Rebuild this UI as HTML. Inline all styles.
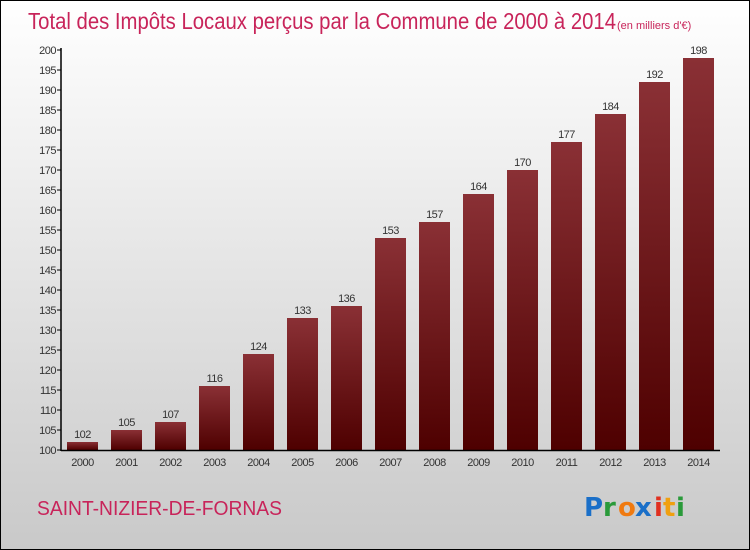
<!DOCTYPE html>
<html><head><meta charset="utf-8"><style>
body{margin:0}
#c{width:748px;height:548px;border:1px solid #000;position:relative;background:linear-gradient(#fff,#c9c9c9);font-family:"Liberation Sans",sans-serif;overflow:hidden}
</style></head><body>
<div id="c">
<svg width="748" height="548" style="position:absolute;left:0;top:0">
<defs><linearGradient id="bg" x1="0" y1="0" x2="0" y2="1"><stop offset="0" stop-color="#8a3035"/><stop offset="1" stop-color="#4e0000"/></linearGradient></defs>
<text x="27" y="28" font-size="23" fill="#c8245a" textLength="588" lengthAdjust="spacingAndGlyphs">Total des Impôts Locaux perçus par la Commune de 2000 à 2014</text>
<text x="616" y="28" font-size="11" fill="#c8245a">(en milliers d'€)</text>
<g id="plot" transform="translate(-1,-1)"></g>
<text x="36" y="514" font-size="20" fill="#c8245a" textLength="245" lengthAdjust="spacingAndGlyphs">SAINT-NIZIER-DE-FORNAS</text>
<g font-family="'DejaVu Sans',sans-serif" font-size="26" font-weight="bold">
<text x="583" y="515" fill="#1a6fc8">P</text><text x="602" y="515" fill="#2a9a3a">r</text><text x="617" y="515" fill="#f07a10">o</text><text x="634" y="515" fill="#1a6fc8">x</text><text x="653" y="515" fill="#e03020">i</text><text x="662" y="515" fill="#f0a010">t</text><text x="675" y="515" fill="#2a9a3a">i</text>
</g>
</svg>
</div>
<script>
const years=["2000","2001","2002","2003","2004","2005","2006","2007","2008","2009","2010","2011","2012","2013","2014"];
const values=[102,105,107,116,124,133,136,153,157,164,170,177,184,192,198];
const ticks=[100,105,110,115,120,125,130,135,140,145,150,155,160,165,170,175,180,185,190,195,200];
const NS="http://www.w3.org/2000/svg";
const g=document.getElementById('plot');
const y=v=>450-(v-100)*4;
const x=i=>82.5+i*44;
function mk(t,a){const e=document.createElementNS(NS,t);for(const k in a)e.setAttribute(k,a[k]);g.appendChild(e);return e;}
ticks.forEach(t=>{
 const l=mk('line',{x1:57,x2:61,y1:y(t),y2:y(t),stroke:'#000'});
 
 
 const tx=mk('text',{x:56,y:y(t)+4,'font-size':11,fill:'#333','text-anchor':'end','letter-spacing':'-0.5'});
 tx.textContent=t;
 
 
});
values.forEach((v,i)=>{
 const r=mk('rect',{x:x(i)-15.5,y:y(v),width:31,height:450-y(v),fill:'url(#bg)'});
 
 
 const lb=mk('text',{x:x(i),y:y(v)-4,'font-size':11,fill:'#333','text-anchor':'middle','letter-spacing':'-0.5'});
 lb.textContent=v;
 
 
 const xl=mk('text',{x:x(i),y:466,'font-size':11,fill:'#333','text-anchor':'middle','letter-spacing':'-0.5'});
 xl.textContent=years[i];
 
 
});
const ya=mk('line',{x1:61,x2:61,y1:48,y2:451,stroke:'#000','stroke-width':1.5});


const xa=mk('line',{x1:61,x2:720,y1:450.5,y2:450.5,stroke:'#000','stroke-width':1.5});


</script>
</body></html>
